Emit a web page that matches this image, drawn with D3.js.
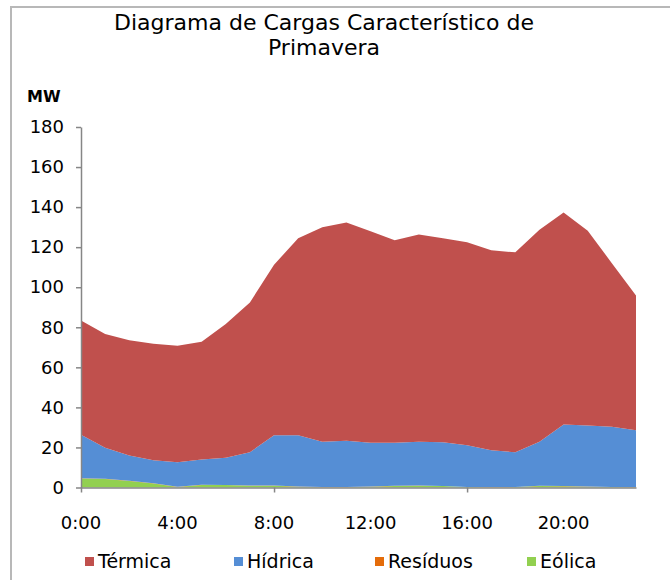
<!DOCTYPE html>
<html>
<head>
<meta charset="utf-8">
<script src="https://cdn.jsdelivr.net/npm/d3@7"></script>
<style>
  body { margin: 0; background: #fff; }
  svg text { font-family: "DejaVu Sans", Verdana, sans-serif; fill: #000; }
</style>
</head>
<body>
<div id="chart"></div>
<script>
// hours of the day (0..23)
const hours = d3.range(0, 24);
const tickLabels = ["0:00", "4:00", "8:00", "12:00", "16:00", "20:00"];
const seriesNames = ["Térmica", "Hídrica", "Resíduos", "Eólica"];
const seriesColors = ["#C0504D", "#558ED5", "#E46C0A", "#92D050"];

// MW values
const eolica   = [4.5, 4.3, 3.3, 2.0, 0.3, 1.3, 1.2, 0.9, 0.9, 0.4, 0.1, 0.1, 0.4, 0.8, 0.9, 0.7, 0.2, 0.1, 0.2, 0.8, 0.6, 0.4, 0.2, 0.1];
const residuos = [0.1, 0.1, 0.1, 0.1, 0.1, 0.1, 0.1, 0.1, 0.1, 0.1, 0.1, 0.1, 0.1, 0.1, 0.1, 0.1, 0.1, 0.1, 0.1, 0.1, 0.1, 0.1, 0.1, 0.1];
const hidrica  = [21.8, 15.4, 12.6, 11.5, 12.2, 12.6, 13.5, 16.6, 25.1, 25.6, 22.6, 23.2, 21.8, 21.5, 21.9, 21.8, 20.8, 18.4, 17.3, 21.9, 30.7, 30.4, 30.0, 28.4];
const termica  = [57.0, 56.8, 57.5, 58.2, 58.2, 58.8, 66.8, 74.8, 85.1, 98.4, 107.2, 108.9, 105.6, 101.1, 103.4, 101.8, 101.4, 99.8, 99.8, 105.9, 105.9, 97.3, 81.7, 67.3];

const W = 670, H = 580;
const margin = { top: 127, right: 34, bottom: 92.5, left: 81 };
const width = W - margin.left - margin.right;
const height = H - margin.top - margin.bottom;

const svg = d3.select("#chart").append("svg")
  .attr("width", W)
  .attr("height", H);

// chart frame
svg.append("rect")
  .attr("x", 11).attr("y", 7)
  .attr("width", 700).attr("height", 600)
  .attr("fill", "none")
  .attr("stroke", "#b8b8b8")
  .attr("stroke-width", 2);

// title
const title = svg.append("text")
  .attr("text-anchor", "middle")
  .style("font-size", "22px");
title.append("tspan").attr("x", 324).attr("y", 30).text("Diagrama de Cargas Característico de");
title.append("tspan").attr("x", 324).attr("y", 55).text("Primavera");

svg.append("text")
  .attr("x", 27).attr("y", 102)
  .style("font-size", "16px")
  .style("font-weight", "bold")
  .text("MW");

const g = svg.append("g")
  .attr("transform", "translate(" + margin.left + "," + margin.top + ")");

const x = d3.scaleLinear().domain([0, 23]).range([0, width]);
const y = d3.scaleLinear().domain([0, 180]).range([height, 0]);

// stack bottom-up: Eólica, Resíduos, Hídrica, Térmica
const rows = hours.map((h, i) => ({
  hour: h,
  "Eólica": eolica[i],
  "Resíduos": residuos[i],
  "Hídrica": hidrica[i],
  "Térmica": termica[i]
}));
const stackKeys = ["Eólica", "Resíduos", "Hídrica", "Térmica"];
const stacked = d3.stack().keys(stackKeys)(rows);
const color = d3.scaleOrdinal().domain(seriesNames).range(seriesColors);

const area = d3.area()
  .x(d => x(d.data.hour))
  .y0(d => y(d[0]))
  .y1(d => y(d[1]));

g.selectAll(".layer")
  .data(stacked)
  .enter()
  .append("path")
  .attr("class", "layer")
  .attr("d", area)
  .attr("fill", d => color(d.key));

// Y axis
const yAxis = g.append("g")
  .call(d3.axisLeft(y).tickValues(d3.range(0, 181, 20)).tickSize(5).tickPadding(12).tickSizeOuter(0));
yAxis.select(".domain").attr("stroke", "#868686").attr("stroke-width", 1.5);
yAxis.selectAll(".tick line").attr("stroke", "#868686").attr("stroke-width", 1.5);
yAxis.selectAll("text").style("font-size", "18px").style("font-family", "DejaVu Sans, Verdana, sans-serif").attr("fill", "#000");

// X axis: tick marks every 8 h, labels every 4 h
const xTicks = g.append("g")
  .attr("transform", "translate(0," + height + ")")
  .call(d3.axisBottom(x).tickValues([0, 8, 16]).tickSize(5).tickFormat("").tickSizeOuter(0));
xTicks.select(".domain").attr("stroke", "#868686").attr("stroke-width", 1.5);
xTicks.selectAll(".tick line").attr("stroke", "#868686").attr("stroke-width", 1.5);

g.append("g")
  .selectAll("text")
  .data(tickLabels)
  .enter()
  .append("text")
  .attr("x", (d, i) => x(i * 4))
  .attr("y", height + 41)
  .attr("text-anchor", "middle")
  .style("font-size", "18px")
  .text(d => d);

// legend
const legendX = [85, 234, 375, 527];
const legend = svg.append("g");
seriesNames.forEach((name, i) => {
  legend.append("rect")
    .attr("x", legendX[i]).attr("y", 557)
    .attr("width", 9).attr("height", 9)
    .attr("fill", seriesColors[i]);
  legend.append("text")
    .attr("x", legendX[i] + 13).attr("y", 568)
    .style("font-size", "19px")
    .text(name);
});
</script>
</body>
</html>
